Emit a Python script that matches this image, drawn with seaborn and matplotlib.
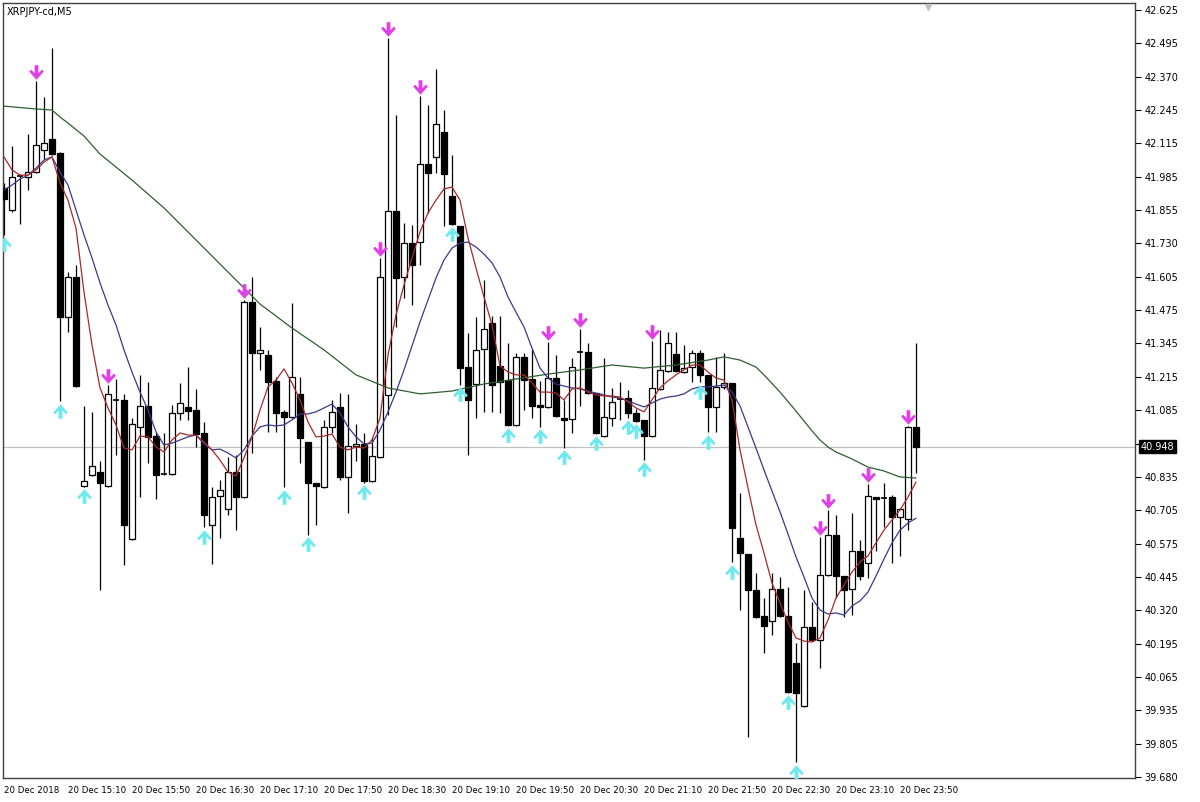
import numpy as np
import pandas as pd
import seaborn as sns
import matplotlib.pyplot as plt
from matplotlib.path import Path
import matplotlib.transforms as mtransforms

# XRPJPY-cd M5 candles, 20 Dec 14:30 -> 21 Dec 00:00 (one entry per bar)
opens = [41.941, 41.857, 41.987, 41.983, 42.002, 42.087, 42.129, 42.076, 41.446, 41.599,
         40.797, 40.839, 40.851, 40.797, 41.127, 41.127, 40.593, 41.024, 41.104, 40.989,
         40.843, 40.843, 41.077, 41.100, 41.089, 41.000, 40.647, 40.759, 40.709, 40.851,
         40.755, 41.504, 41.308, 41.300, 41.200, 41.081, 41.062, 41.150, 40.966, 40.809,
         40.793, 41.024, 41.100, 40.831, 40.951, 40.958, 40.816, 40.908, 41.146, 41.853,
         41.599, 41.730, 41.734, 42.033, 42.060, 42.156, 41.910, 41.795, 41.254, 41.189,
         41.323, 41.423, 41.258, 41.204, 41.031, 41.292, 41.208, 41.108, 41.100, 41.212,
         41.058, 41.054, 41.311, 41.311, 41.154, 40.989, 41.058, 41.131, 41.135, 41.077,
         41.050, 40.989, 41.169, 41.238, 41.304, 41.235, 41.254, 41.308, 41.223, 41.100,
         41.177, 41.192, 40.597, 40.536, 40.397, 40.298, 40.279, 40.401, 40.298, 40.117,
         39.952, 40.256, 40.206, 40.455, 40.609, 40.451, 40.401, 40.547, 40.501, 40.755,
         40.751, 40.755, 40.678, 40.670, 41.024]
highs = [41.960, 42.102, 41.995, 42.148, 42.352, 42.291, 42.479, 42.080, 41.619, 41.645,
         41.104, 41.081, 40.893, 41.185, 41.208, 41.150, 41.058, 41.223, 41.196, 41.000,
         41.000, 41.108, 41.192, 41.254, 41.169, 41.043, 40.793, 40.820, 40.908, 40.916,
         41.511, 41.599, 41.407, 41.319, 41.215, 41.089, 41.500, 41.215, 40.968, 40.810,
         41.050, 41.127, 41.154, 41.150, 41.035, 41.000, 40.985, 41.672, 42.517, 42.221,
         41.807, 41.799, 42.294, 42.260, 42.398, 42.241, 42.068, 41.797, 41.384, 41.446,
         41.588, 41.450, 41.450, 41.346, 41.308, 41.308, 41.323, 41.200, 41.350, 41.300,
         41.127, 41.288, 41.400, 41.346, 41.156, 41.288, 41.173, 41.196, 41.166, 41.093,
         41.052, 41.354, 41.396, 41.388, 41.388, 41.338, 41.319, 41.319, 41.225, 41.292,
         41.308, 41.194, 40.770, 40.538, 40.463, 40.367, 40.463, 40.447, 40.409, 40.194,
         40.398, 40.352, 40.601, 40.705, 40.686, 40.453, 40.693, 40.589, 40.805, 40.757,
         40.809, 40.762, 40.711, 41.026, 41.346]
lows = [41.761, 41.849, 41.803, 41.933, 42.000, 42.053, 42.070, 41.123, 41.388, 41.178,
        40.795, 40.837, 40.397, 40.795, 40.916, 40.494, 40.590, 40.755, 40.885, 40.747,
        40.839, 40.841, 41.050, 41.050, 40.947, 40.639, 40.497, 40.597, 40.686, 40.628,
        40.753, 40.924, 41.242, 41.004, 41.004, 40.793, 41.060, 40.885, 40.609, 40.647,
        40.791, 41.000, 40.820, 40.693, 40.893, 40.809, 40.814, 40.906, 41.070, 41.408,
        41.519, 41.492, 41.645, 41.845, 41.999, 41.795, 41.801, 41.185, 40.916, 41.058,
        41.081, 41.081, 41.077, 41.029, 41.029, 41.089, 41.058, 41.024, 41.098, 41.064,
        40.943, 41.000, 41.104, 41.152, 40.998, 40.987, 41.027, 41.050, 41.058, 41.044,
        40.897, 40.987, 41.167, 41.236, 41.236, 41.233, 41.196, 41.196, 41.004, 41.004,
        41.169, 40.505, 40.321, 39.833, 40.292, 40.156, 40.225, 40.296, 40.004, 39.737,
        39.950, 40.204, 40.098, 40.453, 40.367, 40.294, 40.301, 40.436, 40.444, 40.547,
        40.639, 40.501, 40.528, 40.628, 40.847]
closes = [41.899, 41.983, 41.987, 42.002, 42.106, 42.114, 42.072, 41.446, 41.599, 41.181,
          40.816, 40.874, 40.809, 41.150, 41.127, 40.647, 41.035, 41.104, 40.985, 40.839,
          40.843, 41.077, 41.116, 41.085, 40.997, 40.686, 40.755, 40.781, 40.851, 40.755,
          41.504, 41.308, 41.319, 41.196, 41.077, 41.062, 41.215, 40.981, 40.809, 40.797,
          41.024, 41.081, 40.831, 40.951, 40.958, 40.816, 40.912, 41.599, 41.853, 41.596,
          41.730, 41.645, 42.033, 41.999, 42.187, 41.995, 41.803, 41.250, 41.127, 41.319,
          41.400, 41.185, 41.196, 41.031, 41.292, 41.204, 41.104, 41.100, 41.212, 41.066,
          41.050, 41.254, 41.311, 41.154, 41.000, 41.062, 41.120, 41.131, 41.077, 41.046,
          40.989, 41.173, 41.242, 41.346, 41.238, 41.250, 41.308, 41.223, 41.100, 41.177,
          41.192, 40.636, 40.539, 40.397, 40.294, 40.260, 40.401, 40.298, 40.006, 40.002,
          40.256, 40.206, 40.455, 40.609, 40.451, 40.398, 40.547, 40.451, 40.759, 40.747,
          40.751, 40.678, 40.709, 41.024, 40.948]

# moving averages
ma_fast = [42.061, 42.011, 41.991, 41.991, 42.011, 42.041, 42.061, 41.961, 41.895, 41.788,
           41.542, 41.339, 41.174, 41.097, 41.032, 40.943, 40.936, 40.989, 40.986, 40.947,
           40.928, 40.974, 41.001, 40.993, 40.993, 40.966, 40.936, 40.897, 40.851, 40.836,
           40.905, 40.986, 41.089, 41.178, 41.204, 41.247, 41.193, 41.128, 41.043, 40.986,
           40.989, 40.997, 40.947, 40.936, 40.947, 40.943, 40.974, 41.058, 41.300, 41.454,
           41.569, 41.673, 41.773, 41.846, 41.895, 41.938, 41.945, 41.895, 41.750, 41.634,
           41.523, 41.416, 41.258, 41.235, 41.224, 41.224, 41.193, 41.158, 41.158, 41.154,
           41.128, 41.170, 41.174, 41.158, 41.147, 41.143, 41.143, 41.139, 41.120, 41.097,
           41.082, 41.128, 41.174, 41.201, 41.224, 41.243, 41.262, 41.262, 41.235, 41.212,
           41.204, 41.128, 40.936, 40.790, 40.648, 40.540, 40.425, 40.348, 40.275, 40.214,
           40.202, 40.198, 40.214, 40.283, 40.367, 40.417, 40.467, 40.506, 40.529, 40.579,
           40.628, 40.667, 40.705, 40.755, 40.813]
ma_mid = [41.934, 41.953, 41.976, 41.991, 42.018, 42.049, 42.061, 42.003, 41.953, 41.857,
          41.761, 41.673, 41.577, 41.492, 41.416, 41.320, 41.235, 41.158, 41.089, 41.005,
          40.955, 40.962, 40.974, 40.986, 40.993, 40.959, 40.936, 40.939, 40.924, 40.905,
          40.936, 40.989, 41.024, 41.032, 41.028, 41.032, 41.051, 41.074, 41.074, 41.082,
          41.097, 41.112, 41.078, 41.024, 40.986, 40.959, 40.962, 41.012, 41.082, 41.158,
          41.243, 41.335, 41.427, 41.512, 41.596, 41.665, 41.711, 41.730, 41.734, 41.715,
          41.688, 41.654, 41.600, 41.523, 41.465, 41.408, 41.327, 41.250, 41.212, 41.189,
          41.181, 41.174, 41.170, 41.162, 41.154, 41.147, 41.139, 41.135, 41.124, 41.112,
          41.101, 41.116, 41.131, 41.139, 41.143, 41.151, 41.170, 41.178, 41.178, 41.181,
          41.185, 41.158, 41.105, 41.024, 40.943, 40.859, 40.778, 40.698, 40.613, 40.525,
          40.448, 40.367, 40.321, 40.306, 40.310, 40.302, 40.337, 40.356, 40.390, 40.452,
          40.517, 40.579, 40.628, 40.655, 40.674]
ma_slow_bars = [0, 4, 6, 7, 8, 10, 12, 14, 16, 20, 24, 28, 32, 36, 40, 44, 48, 52, 56,
                60, 64, 68, 72, 76, 80, 84, 88, 90, 92, 94, 95, 97, 99, 101, 102, 103,
                104, 106, 108, 110, 112, 114]
ma_slow = [42.256, 42.245, 42.241, 42.214, 42.191, 42.141, 42.072, 42.022, 41.972, 41.865,
           41.742, 41.619, 41.496, 41.404, 41.320, 41.224, 41.174, 41.151, 41.162, 41.189,
           41.208, 41.227, 41.243, 41.262, 41.250, 41.262, 41.281, 41.293, 41.281, 41.254,
           41.224, 41.158, 41.085, 41.009, 40.974, 40.947, 40.928, 40.901, 40.870, 40.855,
           40.832, 40.828]

# fractal arrows (bar indices)
fractal_up = [4, 13, 30, 47, 48, 52, 68, 72, 81, 102, 103, 108, 113]
fractal_down = [0, 7, 10, 25, 35, 38, 45, 56, 57, 63, 67, 70, 74, 78, 79, 80, 87, 88,
                91, 98, 99]

# axis labels
x_label_bars = [0, 8, 16, 24, 32, 40, 48, 56, 64, 72, 80, 88, 96, 104, 112]
x_labels = ['20 Dec 2018', '20 Dec 15:10', '20 Dec 15:50', '20 Dec 16:30', '20 Dec 17:10',
            '20 Dec 17:50', '20 Dec 18:30', '20 Dec 19:10', '20 Dec 19:50', '20 Dec 20:30',
            '20 Dec 21:10', '20 Dec 21:50', '20 Dec 22:30', '20 Dec 23:10', '20 Dec 23:50']
y_labels = ['39.680', '39.805', '39.935', '40.065', '40.195', '40.320', '40.445', '40.575',
            '40.705', '40.835', '', '41.085', '41.215', '41.345', '41.475', '41.605',
            '41.730', '41.855', '41.985', '42.115', '42.245', '42.370', '42.495', '42.625']
last_price = 40.948

df = pd.DataFrame({'bar': np.arange(len(opens)), 'open': opens, 'high': highs,
                   'low': lows, 'close': closes, 'fast': ma_fast, 'mid': ma_mid})
slow = pd.DataFrame({'bar': ma_slow_bars, 'slow': ma_slow})

sns.set_style('white')
plt.rcParams['font.family'] = ['DejaVu Sans']

fig = plt.figure(figsize=(12, 8.02), dpi=100)
ax = fig.add_axes([3 / 1200, 24 / 802, 1132 / 1200, 775 / 802])

# candles
bw = 0.7
ax.vlines(df['bar'], df['low'], df['high'], color='black', lw=0.9, zorder=2)
for _, r in df.iterrows():
    lo, hi = min(r['open'], r['close']), max(r['open'], r['close'])
    fill = 'white' if r['close'] >= r['open'] else 'black'
    if hi - lo < 0.004:
        ax.hlines((lo + hi) / 2, r['bar'] - bw / 2, r['bar'] + bw / 2, color='black',
                  lw=1.2, zorder=3)
    else:
        ax.bar(r['bar'], hi - lo, bottom=lo, width=bw, color=fill, edgecolor='black',
               linewidth=0.9, zorder=3)

# moving averages
sns.lineplot(data=slow, x='bar', y='slow', color='#2f5f2f', lw=0.9, ax=ax, zorder=4)
sns.lineplot(data=df, x='bar', y='mid', color='#3a3a8c', lw=0.9, ax=ax, zorder=4)
sns.lineplot(data=df, x='bar', y='fast', color='#a52a2a', lw=0.9, ax=ax, zorder=4)

# fractal arrows
down_arrow = Path([(-0.13, 0.5), (0.13, 0.5), (0.13, -0.05), (0.38, 0.2), (0.5, 0.06),
                   (0.0, -0.5), (-0.5, 0.06), (-0.38, 0.2), (-0.13, -0.05), (-0.13, 0.5)],
                  closed=True)
up_arrow = Path(down_arrow.vertices * np.array([1, -1]), closed=True)
off = 0.036
ax.scatter(fractal_up, [highs[i] + off for i in fractal_up], marker=down_arrow,
           s=110, color='#e040e8', lw=0, zorder=5)
ax.scatter(fractal_down, [lows[i] - off for i in fractal_down], marker=up_arrow,
           s=110, color='#70e8ee', lw=0, zorder=5)

# last price line and box
ax.axhline(last_price, color='#c0c0c0', lw=0.9, zorder=1)
ax.annotate(f'{last_price:.3f}', xy=(1.0, last_price), xycoords=('axes fraction', 'data'),
            xytext=(4, 0), textcoords='offset points', va='center', ha='left',
            fontsize=7, color='white',
            bbox=dict(boxstyle='square,pad=0.15', fc='black', ec='black'))

# axes
ax.set_xlim(-0.125, 141.375)
ax.set_ylim(39.6762, 42.6519)
ax.yaxis.tick_right()
ax.set_yticks(np.linspace(39.680, 42.625, 24))
ax.set_yticklabels(y_labels)
ax.set_xticks(x_label_bars)
ax.set_xticklabels(x_labels, ha='left')
ax.tick_params(axis='both', length=4, width=0.8, direction='out', colors='black')
ax.tick_params(axis='y', labelsize=7, pad=3)
ax.tick_params(axis='x', labelsize=6.2, pad=2)
ax.set_xlabel('')
ax.set_ylabel('')
for s in ax.spines.values():
    s.set_color('#404040')
    s.set_linewidth(1.0)

ax.text(0.003, 0.995, 'XRPJPY-cd,M5', transform=ax.transAxes, fontsize=7,
        va='top', ha='left', color='black')

# chart-shift marker
tr = mtransforms.blended_transform_factory(ax.transData, ax.transAxes)
ax.plot([115.5], [0.995], marker='v', color='#c0c0c0', ms=5, transform=tr,
        clip_on=False, zorder=6)

fig.savefig('out.png', dpi=100, facecolor='white')
